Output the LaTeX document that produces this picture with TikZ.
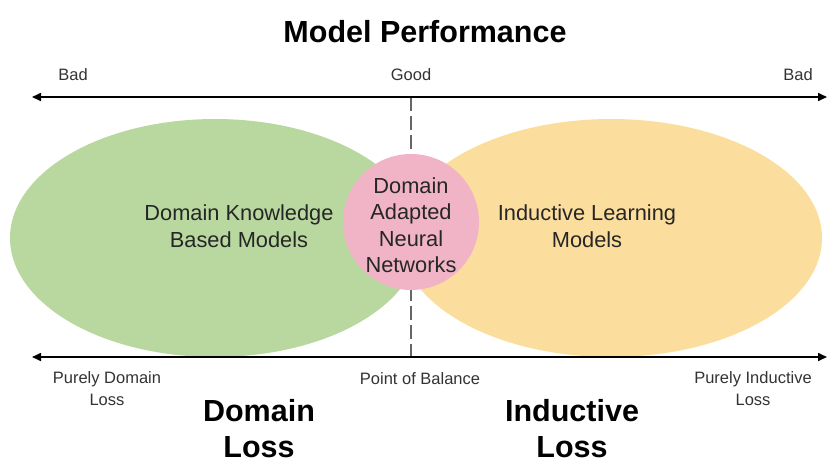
\documentclass[tikz,border=0pt]{standalone}
\usepackage{fontspec}
\setmainfont{Liberation Sans}
\usetikzlibrary{arrows.meta,shapes.geometric}
\definecolor{lgreen}{RGB}{185,216,160}
\definecolor{lyellow}{RGB}{250,216,140}
\definecolor{lpink}{RGB}{240,180,198}
\tikzset{
  axis/.style={line width=1.6pt,{Triangle[length=9pt,width=8pt]}-{Triangle[length=9pt,width=8pt]}},
  small/.style={font=\fontsize{16.5}{22}\selectfont,align=center,text=black!80},
  mid/.style={font=\fontsize{21.8}{26.5}\selectfont,align=center,text=black!85},
  big/.style={font=\fontsize{30.5}{36}\selectfont\bfseries,align=center},
}
\begin{document}
\begin{tikzpicture}[x=1pt,y=-1pt]
\useasboundingbox (0,0) rectangle (827,464);
\coordinate (dtop) at (411,97);
\coordinate (dbot) at (411,357);
\draw[gray!80!black,line width=1.2pt,dash pattern=on 14pt off 5pt] (dtop) -- (dbot);
\node[ellipse,minimum width=410pt,minimum height=238pt,fill=lgreen,inner sep=0pt] (green) at (215,238) {};
\node[ellipse,minimum width=422pt,minimum height=238pt,fill=lyellow,fill opacity=0.85,inner sep=0pt] (yellow) at (611,238) {};
\node[circle,minimum size=136pt,fill=lpink,inner sep=0pt] (pink) at (411,222) {};
\node[mid] (dann) at (411,225) {Domain\\Adapted\\Neural\\Networks};
\node[mid] (dkbm) at (239,226) {Domain Knowledge\\Based Models};
\node[mid] (ilm) at (587,226) {Inductive Learning\\Models};
\coordinate (tl) at (32,97);
\coordinate (tr) at (827,97);
\coordinate (bl) at (32,357);
\coordinate (br) at (827,357);
\draw[axis] (tl) -- (tr);
\draw[axis] (bl) -- (br);
\node[big] (title) at (425,32) {Model Performance};
\node[small] (bad1) at (73,75) {Bad};
\node[small] (good) at (411,75) {Good};
\node[small] (bad2) at (798,75) {Bad};
\node[small] (pdl) at (107,389) {Purely Domain\\Loss};
\node[small] (pob) at (420,379) {Point of Balance};
\node[small] (pil) at (753,389) {Purely Inductive\\Loss};
\node[big,inner sep=0pt] (dl) at (259,429) {Domain\\Loss};
\node[big,inner sep=0pt] (il) at (572,429) {Inductive\\Loss};
\end{tikzpicture}
\end{document}
